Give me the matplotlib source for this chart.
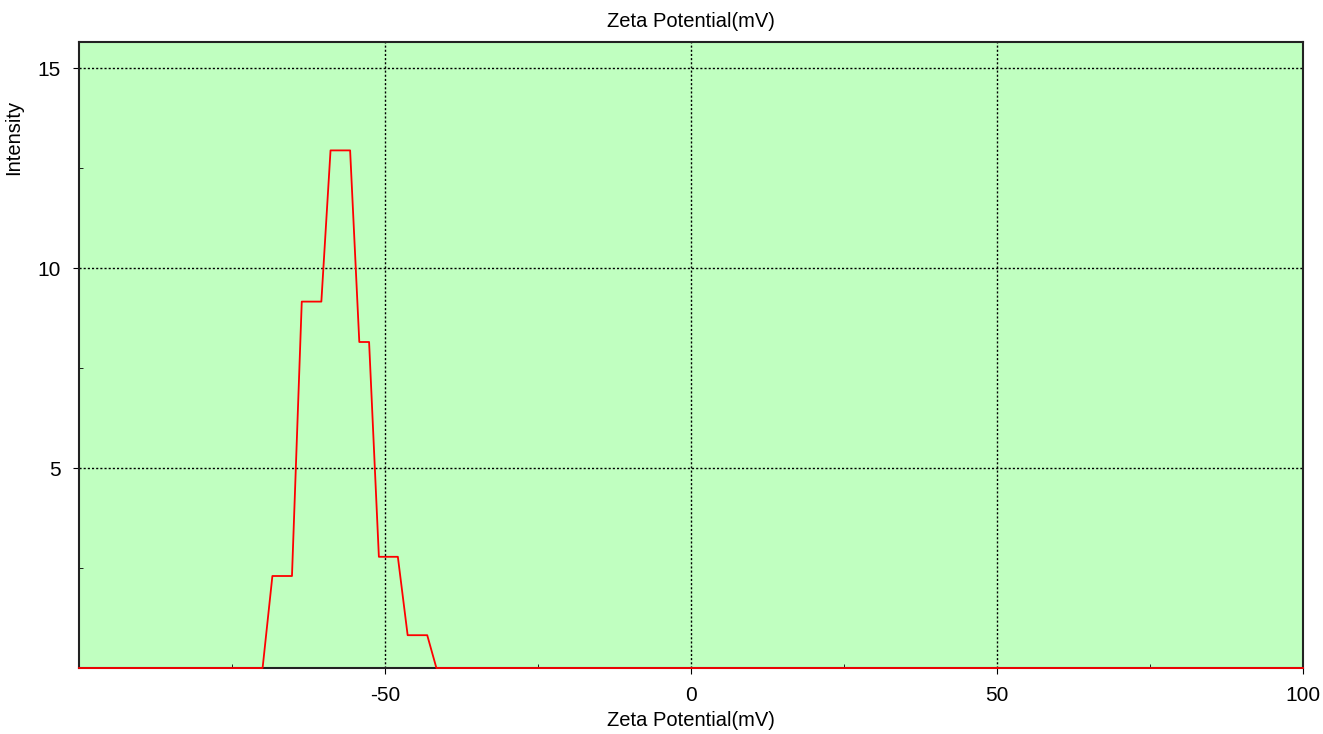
import matplotlib
matplotlib.use("Agg")
import matplotlib.pyplot as plt
from matplotlib.ticker import MultipleLocator

plt.rcParams['font.family'] = ['Liberation Sans', 'DejaVu Sans']
plt.rcParams['axes.unicode_minus'] = False

# --- Data ---
zeta = [-100, -70.0, -68.4, -65.2, -63.6, -60.4, -58.9, -55.7, -54.2,
        -52.6, -51.0, -47.9, -46.3, -43.1, -41.6, 100]
intensity = [0, 0, 2.30, 2.30, 9.16, 9.16, 12.94, 12.94, 8.15,
             8.15, 2.78, 2.78, 0.82, 0.82, 0, 0]

x_ticks = [-50, 0, 50, 100]
y_ticks = [5, 10, 15]

# --- Figure ---
fig = plt.figure(figsize=(13.23, 7.34), dpi=100)
ax = fig.add_axes([79 / 1323, 66 / 734, 1224 / 1323, 626 / 734])
ax.set_facecolor('#C0FFC0')

ax.plot(zeta, intensity, color='red', lw=1.3, zorder=5, clip_on=False)

ax.set_xlim(-100, 100)
ax.set_ylim(0, 15.65)
ax.set_xticks(x_ticks)
ax.set_yticks(y_ticks)
ax.xaxis.set_minor_locator(MultipleLocator(25))
ax.yaxis.set_minor_locator(MultipleLocator(2.5))
ax.tick_params(which='major', direction='out', length=4, labelsize=15)
ax.tick_params(axis='x', which='major', pad=9)
ax.tick_params(axis='y', which='major', pad=9)
ax.tick_params(which='minor', direction='in', length=3)
ax.grid(True, which='major', color='black', linestyle=(0, (1.5, 1.5)), lw=1)

for s in ax.spines.values():
    s.set_linewidth(1.5)
    s.set_color('#222222')

ax.set_xlabel('Zeta Potential(mV)', fontsize=14.5, labelpad=4)
ax.set_ylabel('Intensity', fontsize=14.5)
ax.yaxis.set_label_coords(-0.0458, 0.847)
ax.set_title('Zeta Potential(mV)', fontsize=14.5, pad=11)

fig.savefig('out.png', dpi=100)
